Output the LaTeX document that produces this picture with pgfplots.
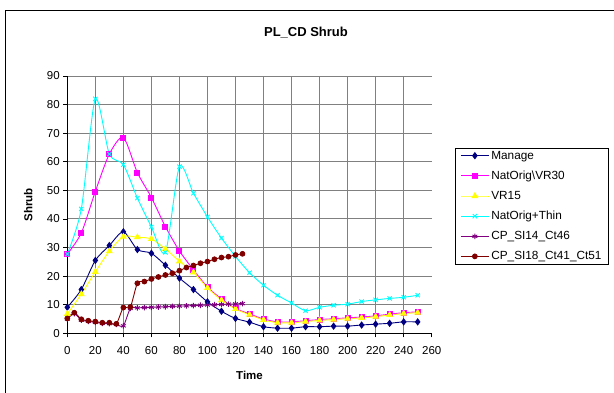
\documentclass[border=0pt]{standalone}
\usepackage{fontspec}
\setmainfont{Liberation Sans}
\usepackage{pgfplots}
\pgfplotsset{compat=1.18}
\definecolor{cnavy}{RGB}{0,0,128}
\definecolor{cmag}{RGB}{255,0,255}
\definecolor{cyel}{RGB}{255,255,0}
\definecolor{ccyan}{RGB}{0,255,255}
\definecolor{cpurp}{RGB}{128,0,128}
\definecolor{cbrown}{RGB}{128,0,0}
\definecolor{cgrid}{RGB}{128,128,128}
\begin{document}
\begin{tikzpicture}
\useasboundingbox (0pt,0pt) rectangle (614pt,393pt);
\draw[line width=1pt] (5.5pt,-5pt) -- (5.5pt,382.5pt) -- (620pt,382.5pt);
\node[font=\bfseries\fontsize{13}{15}\selectfont] at (306pt,360pt) {PL\_CD Shrub};
\begin{axis}[
  at={(67.3pt,59.7pt)}, anchor=south west,
  scale only axis, width=364.4pt, height=257.3pt,
  xmin=0, xmax=260, ymin=0, ymax=90,
  xtick={0,20,...,240}, ytick={0,10,...,90},
  extra x ticks={260}, extra x tick style={grid=none},
  grid=major, major grid style={cgrid, line width=0.9pt},
  axis x line*=bottom, axis y line*=left,
  axis line style={-, black, line width=1pt},
  tick align=outside, major tick length=4pt,
  tick style={black, line width=0.8pt},
  ticklabel style={font=\fontsize{11.5}{13}\selectfont},
  xticklabel style={yshift=-6pt},
  /pgf/number format/assume math mode=true,
  xlabel={\bfseries Time}, ylabel={\bfseries Shrub},
  label style={font=\bfseries\fontsize{11.5}{13}\selectfont},
  xlabel style={at={(axis description cs:0.5,-0.163)}, anchor=center},
  ylabel style={at={(axis description cs:-0.107,0.5)}, anchor=center},
  legend style={at={(axis description cs:1.064,0.722)}, anchor=north west,
    draw=black, line width=0.8pt, font=\fontsize{11.8}{13}\selectfont,
    row sep=6.3pt, inner xsep=5pt, inner ysep=1pt},
  legend cell align=left,
  legend image code/.code={\draw[mark repeat=2,mark phase=2] plot coordinates {(0pt,0pt) (14pt,0pt) (28pt,0pt)};},
  every axis plot/.append style={line width=0.9pt, smooth, tension=0.45},
  clip=false,
]
\addplot[cnavy, mark=diamond*, mark size=3pt, mark options={solid, fill=cnavy}] coordinates {
(0,9.1) (10,15.3) (20,25.5) (30,30.7) (40,35.5) (50,29.3) (60,28) (70,23.8) (80,19.3) (90,15.3)
(100,11) (110,7.7) (120,5.2) (130,3.9) (140,2.3) (150,1.8) (160,1.8) (170,2.3) (180,2.3) (190,2.5)
(200,2.5) (210,2.9) (220,3.2) (230,3.5) (240,4.0) (250,4.0)};
\addlegendentry{Manage}
\addplot[cmag, mark=square*, mark size=2.5pt, mark options={solid, fill=cmag}] coordinates {
(0,27.7) (10,35.1) (20,49.6) (30,62.7) (40,68.5) (50,56.2) (60,47.5) (70,37.3) (80,28.8) (90,22.2)
(100,16.2) (110,12) (120,8.7) (130,6.8) (140,5) (150,4) (160,4) (170,4.4) (180,4.8) (190,5.1)
(200,5.4) (210,5.7) (220,6.1) (230,6.7) (240,7.2) (250,7.5)};
\addlegendentry{NatOrig\textbackslash VR30}
\addplot[cyel, mark=triangle*, mark size=3.1pt, mark options={solid, fill=cyel}] coordinates {
(0,6.8) (10,13.7) (20,21.5) (30,28.7) (40,33.8) (50,33.6) (60,33) (70,29.5) (80,25.2) (90,21.3)
(100,15.9) (110,11.6) (120,8.5) (130,6.5) (140,4.7) (150,3.7) (160,3.7) (170,4.1) (180,4.5) (190,4.8)
(200,5.1) (210,5.4) (220,5.8) (230,6.4) (240,6.9) (250,7.2)};
\addlegendentry{VR15}
\addplot[ccyan, mark=x, mark size=3pt, mark options={solid}] coordinates {
(0,27.7) (10,43.5) (20,82) (30,62.7) (40,59) (50,47.3) (60,37.2) (70,28.3) (80,58.3) (90,49)
(100,40.7) (110,33.3) (120,26.9) (130,21.2) (140,16.8) (150,13.3) (160,10.6) (170,7.9) (180,9.1) (190,9.8)
(200,10.2) (210,11.1) (220,11.7) (230,12.2) (240,12.6) (250,13.3)};
\addlegendentry{NatOrig+Thin}
\addplot[cpurp, mark=asterisk, mark size=2.8pt, mark options={solid}] coordinates {
(0,5.0) (5,6.9) (10,4.6) (15,4.2) (20,3.8) (25,3.5) (30,3.4) (35,3.1) (40,2.6) (45,8.7)
(50,8.9) (55,9.0) (60,9.1) (65,9.2) (70,9.3) (75,9.4) (80,9.5) (85,9.6) (90,9.7) (95,9.8)
(100,9.9) (105,10.0) (110,10.1) (115,10.2) (120,10.3) (125,10.4)};
\addlegendentry{CP\_SI14\_Ct46}
\addplot[cbrown, mark=*, mark size=2.4pt, mark options={solid, fill=cbrown}] coordinates {
(0,5.2) (5,7.2) (10,4.9) (15,4.4) (20,4.1) (25,3.7) (30,3.7) (35,3.3) (40,9.0) (45,9.2)
(50,17.5) (55,18.1) (60,19.0) (65,19.7) (70,20.4) (75,21) (80,21.9) (85,23.0) (90,23.7) (95,24.5)
(100,25.1) (105,25.9) (110,26.5) (115,26.8) (120,27.4) (125,27.8)};
\addlegendentry{CP\_SI18\_Ct41\_Ct51}
\end{axis}
\end{tikzpicture}
\end{document}
